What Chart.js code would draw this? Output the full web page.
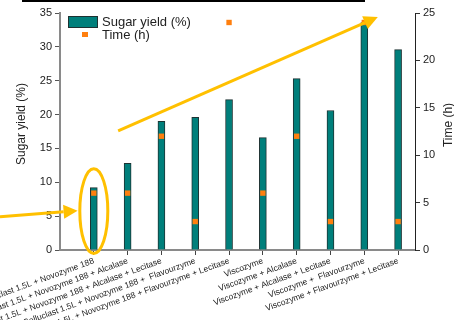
<!DOCTYPE html>
<html lang="en">
<head>
    <meta charset="UTF-8">
    <title>Sugar yield</title>
    <style>
        body { margin: 0; background: #fff; }
        #wrap { width: 454px; height: 320px; }
    </style>
</head>
<body>
    <div id="wrap">
        <canvas id="yieldChart" width="454" height="320"></canvas>
    </div>

    <script src="https://cdn.jsdelivr.net/npm/chart.js"></script>

    <script>
        // data
        const categories = [
            'Celluclast 1.5L + Novozyme 188',
            'Celluclast 1.5L + Novozyme 188 + Alcalase',
            'Celluclast 1.5L + Novozyme 188 + Alcalase + Lecitase',
            'Celluclast 1.5L + Novozyme 188 +  Flavourzyme',
            'Celluclast 1.5L + Novozyme 188 + Flavourzyme + Lecitase',
            'Viscozyme',
            'Viscozyme + Alcalase',
            'Viscozyme + Alcalase + Lecitase',
            'Viscozyme +  Flavourzyme',
            'Viscozyme + Flavourzyme + Lecitase'
        ];
        const sugarYield = [9.2, 12.8, 19.0, 19.6, 22.2, 16.6, 25.3, 20.6, 33.6, 29.6];
        const timeHours = [6, 6, 12, 3, 24, 6, 12, 3, 24, 3];
        const yieldTicks = [0, 5, 10, 15, 20, 25, 30, 35];
        const timeTicks = [0, 5, 10, 15, 20, 25];

        const teal = '#007f7b';
        const orange = '#ff7f0e';
        const yellow = '#ffc000';
        const font = 'Liberation Sans, Arial, sans-serif';

        // legend, axis titles and the yellow highlight marks
        const extras = {
            id: 'extras',
            afterDraw(chart) {
                const c = chart.ctx;
                const x = chart.scales.x, y = chart.scales.y;
                c.save();

                // dark strip across the top of the figure
                c.fillStyle = '#000';
                c.fillRect(22, 0, 343, 2);

                // legend
                c.fillStyle = teal;
                c.strokeStyle = '#1d3232';
                c.lineWidth = 1;
                c.fillRect(68.5, 16.5, 29, 11);
                c.strokeRect(68.5, 16.5, 29, 11);
                c.fillStyle = orange;
                c.fillRect(82, 32, 6, 5);
                c.fillStyle = '#222';
                c.font = '13px ' + font;
                c.textBaseline = 'middle';
                c.fillText('Sugar yield (%)', 102, 22);
                c.fillText('Time (h)', 102, 35);

                // axis titles
                c.font = '12px ' + font;
                c.textAlign = 'center';
                c.translate(22, 124);
                c.rotate(-Math.PI / 2);
                c.fillText('Sugar yield (%)', 0, 0);
                c.setTransform(1, 0, 0, 1, 0, 0);
                c.translate(449, 125);
                c.rotate(-Math.PI / 2);
                c.fillText('Time (h)', 0, 0);
                c.setTransform(1, 0, 0, 1, 0, 0);

                // ellipse round the first bar
                c.strokeStyle = yellow;
                c.lineWidth = 3;
                c.beginPath();
                const ex = x.getPixelForValue(0);
                const eTop = y.getPixelForValue(12), eBot = y.getPixelForValue(-0.5);
                c.ellipse(ex, (eTop + eBot) / 2, 14, (eBot - eTop) / 2, 0, 0, Math.PI * 2);
                c.stroke();

                function arrow(x0, y0, x1, y1) {
                    const a = Math.atan2(y1 - y0, x1 - x0);
                    const hl = 14, hw = 7;
                    c.strokeStyle = yellow;
                    c.fillStyle = yellow;
                    c.lineWidth = 3;
                    c.beginPath();
                    c.moveTo(x0, y0);
                    c.lineTo(x1 - hl * Math.cos(a), y1 - hl * Math.sin(a));
                    c.stroke();
                    c.beginPath();
                    c.moveTo(x1, y1);
                    c.lineTo(x1 - hl * Math.cos(a) + hw * Math.sin(a), y1 - hl * Math.sin(a) - hw * Math.cos(a));
                    c.lineTo(x1 - hl * Math.cos(a) - hw * Math.sin(a), y1 - hl * Math.sin(a) + hw * Math.cos(a));
                    c.closePath();
                    c.fill();
                }
                arrow(0, y.getPixelForValue(4.9), x.getPixelForValue(-0.48), y.getPixelForValue(5.8));
                arrow(x.getPixelForValue(0.72), y.getPixelForValue(17.6), x.getPixelForValue(8.4), y.getPixelForValue(34.4));

                c.restore();
            }
        };

        const barPoints = sugarYield.map((v, i) => ({ x: i, y: v }));
        const timePoints = timeHours.map((v, i) => ({ x: i, y: v }));

        const ctx = document.getElementById('yieldChart').getContext('2d');
        const yieldChart = new Chart(ctx, {
            data: {
                datasets: [{
                    type: 'scatter',
                    label: 'Time (h)',
                    data: timePoints,
                    yAxisID: 'y2',
                    backgroundColor: orange,
                    borderColor: orange,
                    pointStyle: 'rect',
                    pointRadius: 3.8,
                    borderWidth: 0,
                    order: 0
                }, {
                    type: 'bar',
                    label: 'Sugar yield (%)',
                    data: barPoints,
                    yAxisID: 'y',
                    backgroundColor: teal,
                    borderColor: '#1d3232',
                    borderWidth: 1,
                    barThickness: 7,
                    order: 1
                }]
            },
            options: {
                responsive: false,
                animation: false,
                layout: { padding: { top: 13, left: 0, right: 0, bottom: 0 } },
                plugins: {
                    legend: { display: false },
                    tooltip: { enabled: false }
                },
                scales: {
                    x: {
                        type: 'linear',
                        min: -1,
                        max: 9.5,
                        offset: false,
                        afterBuildTicks(s) { s.ticks = categories.map((_, i) => ({ value: i })); },
                        grid: { display: true, offset: false, drawOnChartArea: false, tickLength: 5, color: '#444', tickWidth: 1 },
                        border: { color: '#8a8a8a', width: 2 },
                        ticks: {
                            autoSkip: false,
                            minRotation: 20,
                            maxRotation: 20,
                            padding: 1,
                            color: '#222',
                            font: { family: font, size: 8.5 },
                            callback: v => categories[v]
                        },
                        afterFit(s) {
                            s.height = 70;
                            s.paddingLeft = 0;
                            s.paddingRight = 0;
                        }
                    },
                    y: {
                        position: 'left',
                        min: 0,
                        max: 35,
                        afterBuildTicks(s) { s.ticks = yieldTicks.map(v => ({ value: v })); },
                        grid: { display: true, drawOnChartArea: false, tickLength: 5, color: '#555' },
                        border: { color: '#8a8a8a', width: 2 },
                        ticks: { color: '#222', padding: 3, font: { family: font, size: 11 } },
                        afterFit(s) { s.width = 60; }
                    },
                    y2: {
                        position: 'right',
                        min: 0,
                        max: 25,
                        afterBuildTicks(s) { s.ticks = timeTicks.map(v => ({ value: v })); },
                        grid: { display: true, drawOnChartArea: false, tickLength: 5, color: '#333' },
                        border: { color: '#222', width: 1 },
                        ticks: { color: '#222', padding: 3, font: { family: font, size: 11 } },
                        afterFit(s) { s.width = 39; }
                    }
                }
            },
            plugins: [extras]
        });
    </script>
</body>
</html>
